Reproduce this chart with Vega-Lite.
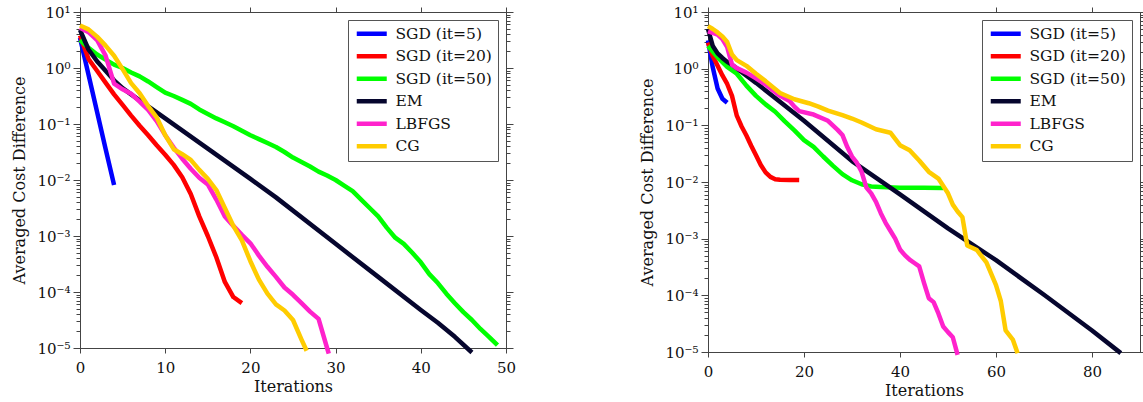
{
  "$schema": "https://vega.github.io/schema/vega-lite/v6.json",
  "padding": {"left": 11, "top": 4, "right": 0, "bottom": 0},
  "background": "white",
  "config": {
    "font": "DejaVu Serif",
    "view": {"stroke": "#222", "strokeWidth": 1},
    "axis": {"labelFont": "DejaVu Serif", "titleFont": "DejaVu Serif", "labelFontSize": 15, "titleFontSize": 16, "titleFontWeight": "normal", "labelColor": "#111", "titleColor": "#111", "domainColor": "#444", "tickColor": "#444", "grid": false, "labelFlush": false, "labelOverlap": false},
    "legend": {"orient": "top-right", "offset": 8, "fillColor": "white", "strokeColor": "#555", "strokeWidth": 1, "padding": 6, "symbolType": "M-1,0H5", "symbolSize": 100, "symbolStrokeWidth": 5, "labelFont": "DejaVu Serif", "labelFontSize": 15.5, "labelColor": "#111", "rowPadding": 5.5, "labelOffset": 26},
    "line": {"strokeWidth": 4.5, "clip": true, "strokeJoin": "round"}
  },
  "datasets": {
    "L": [
      {"s": "SGD (it=5)", "x": 0, "y": 3.467}, {"s": "SGD (it=5)", "x": 1, "y": 0.7586}, {"s": "SGD (it=5)", "x": 2, "y": 0.166}, {"s": "SGD (it=5)", "x": 3, "y": 0.0363}, {"s": "SGD (it=5)", "x": 4, "y": 0.00813},
      {"s": "SGD (it=20)", "x": 0, "y": 3.802}, {"s": "SGD (it=20)", "x": 1, "y": 1.445}, {"s": "SGD (it=20)", "x": 2, "y": 0.8913}, {"s": "SGD (it=20)", "x": 3, "y": 0.5495}, {"s": "SGD (it=20)", "x": 4, "y": 0.3388}, {"s": "SGD (it=20)", "x": 5, "y": 0.2188}, {"s": "SGD (it=20)", "x": 6, "y": 0.1413}, {"s": "SGD (it=20)", "x": 7, "y": 0.09333}, {"s": "SGD (it=20)", "x": 8, "y": 0.0631}, {"s": "SGD (it=20)", "x": 9, "y": 0.04169}, {"s": "SGD (it=20)", "x": 10, "y": 0.02818}, {"s": "SGD (it=20)", "x": 11, "y": 0.01862}, {"s": "SGD (it=20)", "x": 12, "y": 0.01122}, {"s": "SGD (it=20)", "x": 13, "y": 0.005623}, {"s": "SGD (it=20)", "x": 14, "y": 0.002239}, {"s": "SGD (it=20)", "x": 15, "y": 0.001}, {"s": "SGD (it=20)", "x": 16, "y": 0.0004169}, {"s": "SGD (it=20)", "x": 17, "y": 0.0001514}, {"s": "SGD (it=20)", "x": 18, "y": 0.00008128}, {"s": "SGD (it=20)", "x": 19, "y": 0.0000631},
      {"s": "SGD (it=50)", "x": 0, "y": 3.162}, {"s": "SGD (it=50)", "x": 1, "y": 2.291}, {"s": "SGD (it=50)", "x": 2, "y": 1.738}, {"s": "SGD (it=50)", "x": 3, "y": 1.413}, {"s": "SGD (it=50)", "x": 4, "y": 1.148}, {"s": "SGD (it=50)", "x": 5, "y": 1.0}, {"s": "SGD (it=50)", "x": 6, "y": 0.8318}, {"s": "SGD (it=50)", "x": 7, "y": 0.7079}, {"s": "SGD (it=50)", "x": 8, "y": 0.5754}, {"s": "SGD (it=50)", "x": 9, "y": 0.4571}, {"s": "SGD (it=50)", "x": 10, "y": 0.3631}, {"s": "SGD (it=50)", "x": 11, "y": 0.3162}, {"s": "SGD (it=50)", "x": 12, "y": 0.2692}, {"s": "SGD (it=50)", "x": 13, "y": 0.2291}, {"s": "SGD (it=50)", "x": 14, "y": 0.182}, {"s": "SGD (it=50)", "x": 15, "y": 0.1514}, {"s": "SGD (it=50)", "x": 16, "y": 0.1259}, {"s": "SGD (it=50)", "x": 17, "y": 0.1072}, {"s": "SGD (it=50)", "x": 18, "y": 0.0912}, {"s": "SGD (it=50)", "x": 19, "y": 0.07586}, {"s": "SGD (it=50)", "x": 20, "y": 0.0631}, {"s": "SGD (it=50)", "x": 21, "y": 0.0537}, {"s": "SGD (it=50)", "x": 22, "y": 0.04571}, {"s": "SGD (it=50)", "x": 23, "y": 0.0389}, {"s": "SGD (it=50)", "x": 24, "y": 0.03162}, {"s": "SGD (it=50)", "x": 25, "y": 0.02512}, {"s": "SGD (it=50)", "x": 26, "y": 0.02089}, {"s": "SGD (it=50)", "x": 27, "y": 0.01738}, {"s": "SGD (it=50)", "x": 28, "y": 0.01413}, {"s": "SGD (it=50)", "x": 29, "y": 0.01202}, {"s": "SGD (it=50)", "x": 30, "y": 0.01}, {"s": "SGD (it=50)", "x": 31, "y": 0.007943}, {"s": "SGD (it=50)", "x": 32, "y": 0.00631}, {"s": "SGD (it=50)", "x": 33, "y": 0.004467}, {"s": "SGD (it=50)", "x": 34, "y": 0.003162}, {"s": "SGD (it=50)", "x": 35, "y": 0.002239}, {"s": "SGD (it=50)", "x": 36, "y": 0.001413}, {"s": "SGD (it=50)", "x": 37, "y": 0.0009333}, {"s": "SGD (it=50)", "x": 38, "y": 0.0007244}, {"s": "SGD (it=50)", "x": 39, "y": 0.0005012}, {"s": "SGD (it=50)", "x": 40, "y": 0.0003388}, {"s": "SGD (it=50)", "x": 41, "y": 0.0002089}, {"s": "SGD (it=50)", "x": 42, "y": 0.0001445}, {"s": "SGD (it=50)", "x": 43, "y": 0.00009333}, {"s": "SGD (it=50)", "x": 44, "y": 0.0000631}, {"s": "SGD (it=50)", "x": 45, "y": 0.00004365}, {"s": "SGD (it=50)", "x": 46, "y": 0.00003162}, {"s": "SGD (it=50)", "x": 47, "y": 0.00002188}, {"s": "SGD (it=50)", "x": 48, "y": 0.00001585}, {"s": "SGD (it=50)", "x": 49, "y": 0.00001122},
      {"s": "EM", "x": 0, "y": 4.786}, {"s": "EM", "x": 1, "y": 2.138}, {"s": "EM", "x": 2, "y": 1.318}, {"s": "EM", "x": 3, "y": 0.8913}, {"s": "EM", "x": 4, "y": 0.6026}, {"s": "EM", "x": 5, "y": 0.4365}, {"s": "EM", "x": 6, "y": 0.3388}, {"s": "EM", "x": 10, "y": 0.1259}, {"s": "EM", "x": 15, "y": 0.03631}, {"s": "EM", "x": 20, "y": 0.01047}, {"s": "EM", "x": 23, "y": 0.004898}, {"s": "EM", "x": 30, "y": 0.0007244}, {"s": "EM", "x": 35, "y": 0.0001862}, {"s": "EM", "x": 40, "y": 0.00004786}, {"s": "EM", "x": 42, "y": 0.00002818}, {"s": "EM", "x": 44, "y": 0.00001585}, {"s": "EM", "x": 46, "y": 0.000008318},
      {"s": "LBFGS", "x": 0, "y": 5.248}, {"s": "LBFGS", "x": 1, "y": 4.365}, {"s": "LBFGS", "x": 2, "y": 3.162}, {"s": "LBFGS", "x": 3, "y": 1.66}, {"s": "LBFGS", "x": 4, "y": 0.5248}, {"s": "LBFGS", "x": 5, "y": 0.4169}, {"s": "LBFGS", "x": 6, "y": 0.3467}, {"s": "LBFGS", "x": 7, "y": 0.2512}, {"s": "LBFGS", "x": 8, "y": 0.1778}, {"s": "LBFGS", "x": 9, "y": 0.1122}, {"s": "LBFGS", "x": 10, "y": 0.0631}, {"s": "LBFGS", "x": 11, "y": 0.03802}, {"s": "LBFGS", "x": 12, "y": 0.02399}, {"s": "LBFGS", "x": 13, "y": 0.01585}, {"s": "LBFGS", "x": 14, "y": 0.01096}, {"s": "LBFGS", "x": 15, "y": 0.008318}, {"s": "LBFGS", "x": 16, "y": 0.004467}, {"s": "LBFGS", "x": 17, "y": 0.002239}, {"s": "LBFGS", "x": 18, "y": 0.001514}, {"s": "LBFGS", "x": 19, "y": 0.001047}, {"s": "LBFGS", "x": 20, "y": 0.0007413}, {"s": "LBFGS", "x": 21, "y": 0.0004467}, {"s": "LBFGS", "x": 22, "y": 0.0002818}, {"s": "LBFGS", "x": 23, "y": 0.0001862}, {"s": "LBFGS", "x": 24, "y": 0.0001202}, {"s": "LBFGS", "x": 25, "y": 0.00008913}, {"s": "LBFGS", "x": 26, "y": 0.0000631}, {"s": "LBFGS", "x": 27, "y": 0.00004467}, {"s": "LBFGS", "x": 28, "y": 0.00003311}, {"s": "LBFGS", "x": 29, "y": 0.00001}, {"s": "LBFGS", "x": 29.2, "y": 0.0000079},
      {"s": "CG", "x": 0, "y": 5.754}, {"s": "CG", "x": 1, "y": 4.898}, {"s": "CG", "x": 2, "y": 3.631}, {"s": "CG", "x": 3, "y": 2.512}, {"s": "CG", "x": 4, "y": 1.66}, {"s": "CG", "x": 5, "y": 0.955}, {"s": "CG", "x": 6, "y": 0.537}, {"s": "CG", "x": 7, "y": 0.3548}, {"s": "CG", "x": 8, "y": 0.2089}, {"s": "CG", "x": 9, "y": 0.1318}, {"s": "CG", "x": 10, "y": 0.0631}, {"s": "CG", "x": 11, "y": 0.03548}, {"s": "CG", "x": 12, "y": 0.02884}, {"s": "CG", "x": 13, "y": 0.02291}, {"s": "CG", "x": 14, "y": 0.01514}, {"s": "CG", "x": 15, "y": 0.01047}, {"s": "CG", "x": 16, "y": 0.006607}, {"s": "CG", "x": 17, "y": 0.003162}, {"s": "CG", "x": 18, "y": 0.001514}, {"s": "CG", "x": 19, "y": 0.0008318}, {"s": "CG", "x": 20, "y": 0.0003548}, {"s": "CG", "x": 21, "y": 0.000166}, {"s": "CG", "x": 22, "y": 0.00009333}, {"s": "CG", "x": 23, "y": 0.00006026}, {"s": "CG", "x": 24, "y": 0.00004677}, {"s": "CG", "x": 25, "y": 0.00003162}, {"s": "CG", "x": 26, "y": 0.00001413}, {"s": "CG", "x": 26.6, "y": 0.000008913}
    ],
    "R": [
      {"s": "SGD (it=5)", "x": 0, "y": 3.162}, {"s": "SGD (it=5)", "x": 1, "y": 1.047}, {"s": "SGD (it=5)", "x": 2, "y": 0.4467}, {"s": "SGD (it=5)", "x": 3, "y": 0.2951}, {"s": "SGD (it=5)", "x": 4, "y": 0.2512},
      {"s": "SGD (it=20)", "x": 0, "y": 2.884}, {"s": "SGD (it=20)", "x": 1, "y": 1.66}, {"s": "SGD (it=20)", "x": 2, "y": 1.122}, {"s": "SGD (it=20)", "x": 3, "y": 0.7586}, {"s": "SGD (it=20)", "x": 4, "y": 0.537}, {"s": "SGD (it=20)", "x": 5, "y": 0.3311}, {"s": "SGD (it=20)", "x": 6, "y": 0.1479}, {"s": "SGD (it=20)", "x": 7, "y": 0.0955}, {"s": "SGD (it=20)", "x": 8, "y": 0.06607}, {"s": "SGD (it=20)", "x": 9, "y": 0.04365}, {"s": "SGD (it=20)", "x": 10, "y": 0.02951}, {"s": "SGD (it=20)", "x": 11, "y": 0.01995}, {"s": "SGD (it=20)", "x": 12, "y": 0.01479}, {"s": "SGD (it=20)", "x": 13, "y": 0.0123}, {"s": "SGD (it=20)", "x": 14, "y": 0.01122}, {"s": "SGD (it=20)", "x": 15, "y": 0.01096}, {"s": "SGD (it=20)", "x": 17, "y": 0.01085}, {"s": "SGD (it=20)", "x": 19, "y": 0.0108},
      {"s": "SGD (it=50)", "x": 0, "y": 2.512}, {"s": "SGD (it=50)", "x": 2, "y": 1.585}, {"s": "SGD (it=50)", "x": 4, "y": 1.072}, {"s": "SGD (it=50)", "x": 6, "y": 0.8128}, {"s": "SGD (it=50)", "x": 8, "y": 0.5012}, {"s": "SGD (it=50)", "x": 10, "y": 0.3311}, {"s": "SGD (it=50)", "x": 12, "y": 0.2344}, {"s": "SGD (it=50)", "x": 14, "y": 0.1738}, {"s": "SGD (it=50)", "x": 16, "y": 0.1175}, {"s": "SGD (it=50)", "x": 18, "y": 0.08128}, {"s": "SGD (it=50)", "x": 20, "y": 0.05495}, {"s": "SGD (it=50)", "x": 22, "y": 0.04169}, {"s": "SGD (it=50)", "x": 24, "y": 0.02818}, {"s": "SGD (it=50)", "x": 26, "y": 0.0195}, {"s": "SGD (it=50)", "x": 28, "y": 0.0138}, {"s": "SGD (it=50)", "x": 30, "y": 0.01072}, {"s": "SGD (it=50)", "x": 32, "y": 0.00912}, {"s": "SGD (it=50)", "x": 34, "y": 0.008318}, {"s": "SGD (it=50)", "x": 36, "y": 0.008128}, {"s": "SGD (it=50)", "x": 40, "y": 0.007943}, {"s": "SGD (it=50)", "x": 45, "y": 0.007943}, {"s": "SGD (it=50)", "x": 49, "y": 0.0078},
      {"s": "EM", "x": 0, "y": 5.012}, {"s": "EM", "x": 1, "y": 2.512}, {"s": "EM", "x": 2, "y": 1.862}, {"s": "EM", "x": 3, "y": 1.549}, {"s": "EM", "x": 4, "y": 1.318}, {"s": "EM", "x": 5, "y": 1.175}, {"s": "EM", "x": 10, "y": 0.5623}, {"s": "EM", "x": 20, "y": 0.1202}, {"s": "EM", "x": 30, "y": 0.02344}, {"s": "EM", "x": 40, "y": 0.006026}, {"s": "EM", "x": 50, "y": 0.001514}, {"s": "EM", "x": 60, "y": 0.0004169}, {"s": "EM", "x": 70, "y": 0.0001023}, {"s": "EM", "x": 80, "y": 0.00002399}, {"s": "EM", "x": 86, "y": 0.00000955},
      {"s": "LBFGS", "x": 0, "y": 4.571}, {"s": "LBFGS", "x": 1, "y": 4.266}, {"s": "LBFGS", "x": 2, "y": 3.981}, {"s": "LBFGS", "x": 3, "y": 3.311}, {"s": "LBFGS", "x": 4, "y": 2.399}, {"s": "LBFGS", "x": 5, "y": 1.175}, {"s": "LBFGS", "x": 6, "y": 1.023}, {"s": "LBFGS", "x": 8, "y": 0.8511}, {"s": "LBFGS", "x": 10, "y": 0.6761}, {"s": "LBFGS", "x": 12, "y": 0.5248}, {"s": "LBFGS", "x": 15, "y": 0.3311}, {"s": "LBFGS", "x": 17, "y": 0.2692}, {"s": "LBFGS", "x": 18, "y": 0.2138}, {"s": "LBFGS", "x": 19, "y": 0.1778}, {"s": "LBFGS", "x": 22, "y": 0.1549}, {"s": "LBFGS", "x": 25, "y": 0.1202}, {"s": "LBFGS", "x": 27, "y": 0.08318}, {"s": "LBFGS", "x": 28, "y": 0.06761}, {"s": "LBFGS", "x": 29, "y": 0.04169}, {"s": "LBFGS", "x": 30, "y": 0.02818}, {"s": "LBFGS", "x": 31, "y": 0.02188}, {"s": "LBFGS", "x": 32, "y": 0.01514}, {"s": "LBFGS", "x": 33, "y": 0.007943}, {"s": "LBFGS", "x": 34, "y": 0.00631}, {"s": "LBFGS", "x": 35, "y": 0.004467}, {"s": "LBFGS", "x": 36, "y": 0.002818}, {"s": "LBFGS", "x": 37, "y": 0.001905}, {"s": "LBFGS", "x": 38, "y": 0.00138}, {"s": "LBFGS", "x": 39, "y": 0.001}, {"s": "LBFGS", "x": 40, "y": 0.0006457}, {"s": "LBFGS", "x": 41, "y": 0.0005129}, {"s": "LBFGS", "x": 42, "y": 0.0004266}, {"s": "LBFGS", "x": 43, "y": 0.0003715}, {"s": "LBFGS", "x": 44, "y": 0.0003236}, {"s": "LBFGS", "x": 45, "y": 0.000166}, {"s": "LBFGS", "x": 46, "y": 0.00008913}, {"s": "LBFGS", "x": 47, "y": 0.00007586}, {"s": "LBFGS", "x": 48, "y": 0.00004786}, {"s": "LBFGS", "x": 49, "y": 0.00002818}, {"s": "LBFGS", "x": 50, "y": 0.00002239}, {"s": "LBFGS", "x": 51, "y": 0.0000182}, {"s": "LBFGS", "x": 52, "y": 0.000008913},
      {"s": "CG", "x": 0, "y": 5.623}, {"s": "CG", "x": 1, "y": 5.012}, {"s": "CG", "x": 2, "y": 4.365}, {"s": "CG", "x": 3, "y": 3.715}, {"s": "CG", "x": 4, "y": 2.951}, {"s": "CG", "x": 5, "y": 1.778}, {"s": "CG", "x": 6, "y": 1.413}, {"s": "CG", "x": 8, "y": 1.122}, {"s": "CG", "x": 10, "y": 0.8128}, {"s": "CG", "x": 12, "y": 0.6026}, {"s": "CG", "x": 15, "y": 0.3715}, {"s": "CG", "x": 18, "y": 0.2884}, {"s": "CG", "x": 21, "y": 0.2455}, {"s": "CG", "x": 23, "y": 0.2138}, {"s": "CG", "x": 25, "y": 0.182}, {"s": "CG", "x": 28, "y": 0.1514}, {"s": "CG", "x": 30, "y": 0.1318}, {"s": "CG", "x": 32, "y": 0.1122}, {"s": "CG", "x": 35, "y": 0.08511}, {"s": "CG", "x": 38, "y": 0.07413}, {"s": "CG", "x": 40, "y": 0.04467}, {"s": "CG", "x": 42, "y": 0.03631}, {"s": "CG", "x": 44, "y": 0.02399}, {"s": "CG", "x": 46, "y": 0.01514}, {"s": "CG", "x": 48, "y": 0.01148}, {"s": "CG", "x": 50, "y": 0.00631}, {"s": "CG", "x": 51, "y": 0.003981}, {"s": "CG", "x": 52, "y": 0.00302}, {"s": "CG", "x": 53, "y": 0.002399}, {"s": "CG", "x": 54, "y": 0.0007586}, {"s": "CG", "x": 56, "y": 0.000631}, {"s": "CG", "x": 58, "y": 0.0003802}, {"s": "CG", "x": 60, "y": 0.0001514}, {"s": "CG", "x": 61, "y": 0.00007943}, {"s": "CG", "x": 62, "y": 0.00002399}, {"s": "CG", "x": 63.5, "y": 0.0000166}, {"s": "CG", "x": 64.5, "y": 0.00000955}
    ]
  },
  "hconcat": [
    {
      "width": 426, "height": 336,
      "data": {"name": "L"},
      "layer": [
        {
          "mark": {"type": "line"},
          "encoding": {
            "x": {"field": "x", "type": "quantitative", "scale": {"domain": [0, 50], "nice": false, "zero": false}, "axis": {"values": [0, 10, 20, 30, 40, 50], "title": "Iterations", "tickSize": 5, "labelPadding": 7, "titlePadding": 3}},
            "y": {"field": "y", "type": "quantitative", "scale": {"type": "log", "domain": [0.00001, 10], "nice": false}, "axis": {"values": [0.00001,0.00002,0.00003,0.00004,0.00005,0.00006,0.00007,0.00008,0.00009,0.0001,0.0002,0.0003,0.0004,0.0005,0.0006,0.0007,0.0008,0.0009,0.001,0.002,0.003,0.004,0.005,0.006,0.007,0.008,0.009,0.01,0.02,0.03,0.04,0.05,0.06,0.07,0.08,0.09,0.1,0.2,0.3,0.4,0.5,0.6,0.7,0.8,0.9,1,2,3,4,5,6,7,8,9,10], "title": "Averaged Cost Difference", "tickSize": {"condition": {"test": "abs(log(datum.value)/LN10 - round(log(datum.value)/LN10)) < 0.01", "value": 7}, "value": 4}, "labelExpr": "abs(log(datum.value)/LN10 - round(log(datum.value)/LN10)) < 0.01 ? ['10⁻⁵','10⁻⁴','10⁻³','10⁻²','10⁻¹','10⁰','10¹'][round(log(datum.value)/LN10)+5] : ''", "labelPadding": 3, "titlePadding": 9}},
            "color": {"field": "s", "type": "nominal", "scale": {"domain": ["SGD (it=5)", "SGD (it=20)", "SGD (it=50)", "EM", "LBFGS", "CG"], "range": ["#0000ff", "#ff0000", "#00ff00", "#06062e", "#ff22cc", "#ffcc00"]}, "legend": {"title": null}}
          }
        },
        {
          "mark": {"type": "line", "opacity": 0},
          "encoding": {
            "x": {"field": "x", "type": "quantitative", "scale": {"domain": [0, 50], "nice": false, "zero": false}, "axis": {"orient": "top", "values": [0, 10, 20, 30, 40, 50], "labels": false, "title": null, "tickSize": 5}},
            "y": {"field": "y", "type": "quantitative", "scale": {"type": "log", "domain": [0.00001, 10], "nice": false}, "axis": {"orient": "right", "values": [0.00001,0.00002,0.00003,0.00004,0.00005,0.00006,0.00007,0.00008,0.00009,0.0001,0.0002,0.0003,0.0004,0.0005,0.0006,0.0007,0.0008,0.0009,0.001,0.002,0.003,0.004,0.005,0.006,0.007,0.008,0.009,0.01,0.02,0.03,0.04,0.05,0.06,0.07,0.08,0.09,0.1,0.2,0.3,0.4,0.5,0.6,0.7,0.8,0.9,1,2,3,4,5,6,7,8,9,10], "labels": false, "title": null, "tickSize": {"condition": {"test": "abs(log(datum.value)/LN10 - round(log(datum.value)/LN10)) < 0.01", "value": 7}, "value": 4}}},
            "detail": {"field": "s"}
          }
        }
      ],
      "resolve": {"axis": {"x": "independent", "y": "independent"}}
    },
    {
      "width": 432, "height": 340,
      "data": {"name": "R"},
      "layer": [
        {
          "mark": {"type": "line"},
          "encoding": {
            "x": {"field": "x", "type": "quantitative", "scale": {"domain": [0, 90], "nice": false, "zero": false}, "axis": {"values": [0, 20, 40, 60, 80], "title": "Iterations", "tickSize": 5, "labelPadding": 7, "titlePadding": 3}},
            "y": {"field": "y", "type": "quantitative", "scale": {"type": "log", "domain": [0.00001, 10], "nice": false}, "axis": {"values": [0.00001,0.00002,0.00003,0.00004,0.00005,0.00006,0.00007,0.00008,0.00009,0.0001,0.0002,0.0003,0.0004,0.0005,0.0006,0.0007,0.0008,0.0009,0.001,0.002,0.003,0.004,0.005,0.006,0.007,0.008,0.009,0.01,0.02,0.03,0.04,0.05,0.06,0.07,0.08,0.09,0.1,0.2,0.3,0.4,0.5,0.6,0.7,0.8,0.9,1,2,3,4,5,6,7,8,9,10], "title": "Averaged Cost Difference", "tickSize": {"condition": {"test": "abs(log(datum.value)/LN10 - round(log(datum.value)/LN10)) < 0.01", "value": 7}, "value": 4}, "labelExpr": "abs(log(datum.value)/LN10 - round(log(datum.value)/LN10)) < 0.01 ? ['10⁻⁵','10⁻⁴','10⁻³','10⁻²','10⁻¹','10⁰','10¹'][round(log(datum.value)/LN10)+5] : ''", "labelPadding": 3, "titlePadding": 9}},
            "color": {"field": "s", "type": "nominal", "scale": {"domain": ["SGD (it=5)", "SGD (it=20)", "SGD (it=50)", "EM", "LBFGS", "CG"], "range": ["#0000ff", "#ff0000", "#00ff00", "#06062e", "#ff22cc", "#ffcc00"]}, "legend": {"title": null}}
          }
        },
        {
          "mark": {"type": "line", "opacity": 0},
          "encoding": {
            "x": {"field": "x", "type": "quantitative", "scale": {"domain": [0, 90], "nice": false, "zero": false}, "axis": {"orient": "top", "values": [0, 20, 40, 60, 80], "labels": false, "title": null, "tickSize": 5}},
            "y": {"field": "y", "type": "quantitative", "scale": {"type": "log", "domain": [0.00001, 10], "nice": false}, "axis": {"orient": "right", "values": [0.00001,0.00002,0.00003,0.00004,0.00005,0.00006,0.00007,0.00008,0.00009,0.0001,0.0002,0.0003,0.0004,0.0005,0.0006,0.0007,0.0008,0.0009,0.001,0.002,0.003,0.004,0.005,0.006,0.007,0.008,0.009,0.01,0.02,0.03,0.04,0.05,0.06,0.07,0.08,0.09,0.1,0.2,0.3,0.4,0.5,0.6,0.7,0.8,0.9,1,2,3,4,5,6,7,8,9,10], "labels": false, "title": null, "tickSize": {"condition": {"test": "abs(log(datum.value)/LN10 - round(log(datum.value)/LN10)) < 0.01", "value": 7}, "value": 4}}},
            "detail": {"field": "s"}
          }
        }
      ],
      "resolve": {"axis": {"x": "independent", "y": "independent"}}
    }
  ],
  "spacing": 122,
  "resolve": {"scale": {"color": "independent"}}
}
